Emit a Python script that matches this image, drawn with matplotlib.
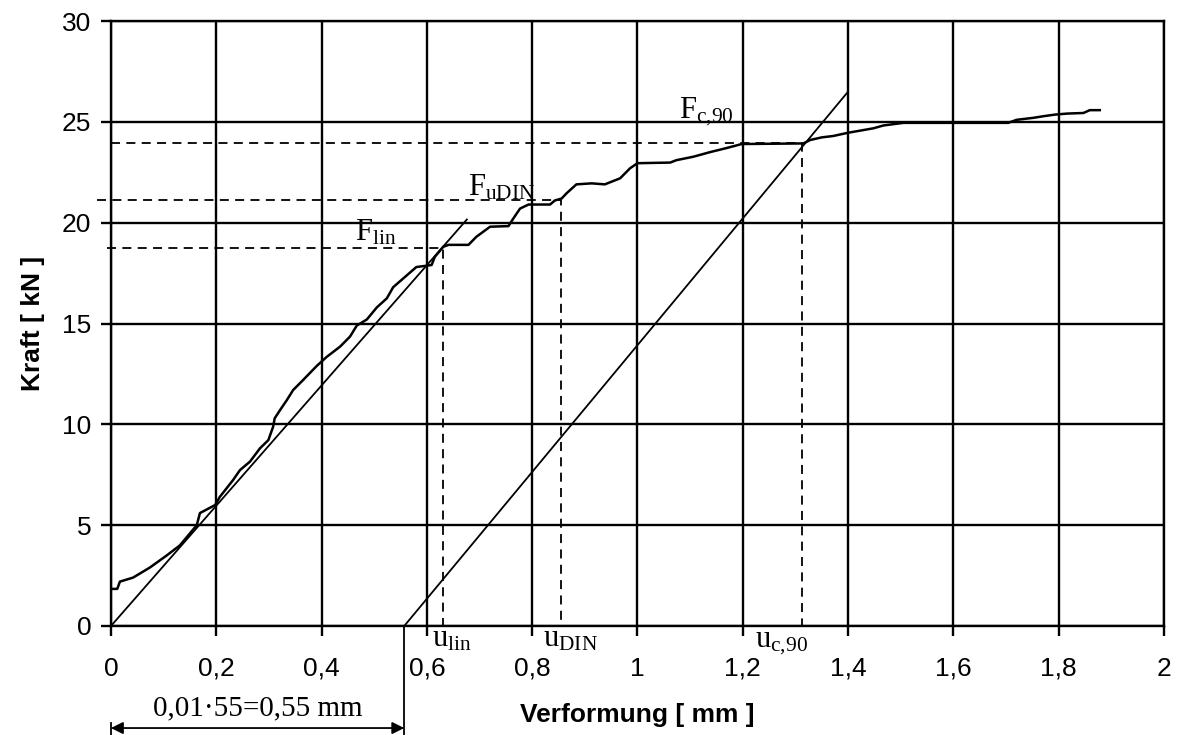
import numpy as np
import matplotlib
matplotlib.use('Agg')
import matplotlib.pyplot as plt

plt.rcParams['font.family'] = ['Liberation Sans', 'DejaVu Sans']
plt.rcParams['mathtext.fontset'] = 'custom'
plt.rcParams['mathtext.rm'] = 'Liberation Serif'
plt.rcParams['mathtext.it'] = 'Liberation Serif:italic'

# Messkurve Kraft-Verformung
verformung = [0, 0.012, 0.017, 0.042, 0.074, 0.106, 0.131, 0.163, 0.169, 0.198, 0.207,
              0.232, 0.245, 0.264, 0.283, 0.299, 0.308, 0.311, 0.321, 0.334, 0.346,
              0.365, 0.391, 0.41, 0.435, 0.454, 0.467, 0.486, 0.505, 0.524, 0.536,
              0.558, 0.580, 0.609, 0.615, 0.631, 0.641, 0.679, 0.694, 0.707, 0.720,
              0.755, 0.764, 0.777, 0.793, 0.834, 0.843, 0.856, 0.865, 0.884, 0.913,
              0.938, 0.967, 0.986, 1.0, 1.062, 1.074, 1.106, 1.138, 1.169, 1.198,
              1.315, 1.328, 1.350, 1.372, 1.400, 1.422, 1.448, 1.467, 1.505, 1.704,
              1.720, 1.752, 1.771, 1.793, 1.816, 1.847, 1.859, 1.878]
kraft = [1.84, 1.84, 2.2, 2.4, 2.9, 3.5, 4.0, 5.0, 5.6, 6.0, 6.41,
         7.24, 7.73, 8.15, 8.81, 9.22, 9.88, 10.3, 10.7, 11.2, 11.7,
         12.2, 12.9, 13.35, 13.85, 14.35, 14.9, 15.2, 15.8, 16.25, 16.8,
         17.3, 17.8, 17.9, 18.3, 18.8, 18.9, 18.9, 19.3, 19.55, 19.8,
         19.83, 20.2, 20.7, 20.9, 20.9, 21.1, 21.2, 21.45, 21.9, 21.95,
         21.9, 22.2, 22.7, 22.95, 22.98, 23.1, 23.27, 23.5, 23.7, 23.9,
         23.93, 24.1, 24.23, 24.3, 24.46, 24.56, 24.68, 24.82, 24.95, 24.95,
         25.1, 25.2, 25.28, 25.36, 25.41, 25.44, 25.58, 25.58]

# Geraden
gerade1_x = [0, 0.676]
gerade1_y = [0, 20.16]
gerade2_x = [0.557, 1.40]
gerade2_y = [0, 26.5]

# Kennwerte (u, F)
u_lin, F_lin = 0.631, 18.76
u_din, F_din = 0.854, 21.12
u_c90, F_c90 = 1.313, 23.93

fig = plt.figure(figsize=(11.79, 7.35), dpi=100)
ax = fig.add_axes([0.0941, 0.1483, 0.8932, 0.8231])

ax.set_xlim(0, 2)
ax.set_ylim(0, 30)
ax.set_xticks(np.arange(0, 2.01, 0.2))
ax.set_yticks(np.arange(0, 31, 5))
ax.set_xticklabels(['0', '0,2', '0,4', '0,6', '0,8', '1', '1,2', '1,4', '1,6', '1,8', '2'])
ax.grid(True, color='black', linewidth=1.7)
ax.set_axisbelow(True)
for s in ax.spines.values():
    s.set_linewidth(1.7)
ax.tick_params(direction='out', length=7, width=1.7, labelsize=19, pad=7)
ax.tick_params(axis='x', pad=15)

ax.plot(verformung, kraft, color='black', linewidth=1.8)
ax.plot(gerade1_x, gerade1_y, color='black', linewidth=1.3)
ax.plot(gerade2_x, gerade2_y, color='black', linewidth=1.3)

dash = dict(color='black', linewidth=1.3, linestyle=(0, (5, 3.5)), clip_on=False)
ax.plot([-0.008, u_lin, u_lin], [F_lin, F_lin, 0], **dash)
ax.plot([-0.027, u_din, u_din], [F_din, F_din, 0], **dash)
ax.plot([0, u_c90, u_c90], [F_c90, F_c90, 0], **dash)

ax.text(0.463, 19.14, r'$\mathrm{F}_{\mathrm{lin}}$', fontsize=22)
ax.text(0.678, 21.37, r'$\mathrm{F}_{\mathrm{uDIN}}$', fontsize=22)
ax.text(1.078, 25.17, r'$\mathrm{F}_{\mathrm{c{,}90}}$', fontsize=22)
ax.text(0.609, -1.04, r'$\mathrm{u}_{\mathrm{lin}}$', fontsize=22)
ax.text(0.821, -1.04, r'$\mathrm{u}_{\mathrm{DIN}}$', fontsize=22)
ax.text(1.223, -1.04, r'$\mathrm{u}_{\mathrm{c{,}90}}$', fontsize=22)

# Versatz 0,55 mm
ax.plot([0.557, 0.557], [0, -5.4], color='black', linewidth=1.3, clip_on=False)
ax.plot([0, 0], [-4.8, -5.4], color='black', linewidth=1.3, clip_on=False)
ax.annotate('', xy=(0, -5.06), xytext=(0.557, -5.06), annotation_clip=False,
            arrowprops=dict(arrowstyle='<|-|>', color='black', lw=1.3,
                            mutation_scale=18, shrinkA=0, shrinkB=0))
ax.text(0.278, -4.41, '0,01·55=0,55 mm', fontsize=21, family='Liberation Serif',
        ha='center', va='baseline')

ax.set_xlabel('Verformung [ mm ]', fontsize=19, fontweight='bold', labelpad=16)
ax.set_ylabel('Kraft [ kN ]', fontsize=19, fontweight='bold', labelpad=12)

fig.savefig('out.png', dpi=100)
